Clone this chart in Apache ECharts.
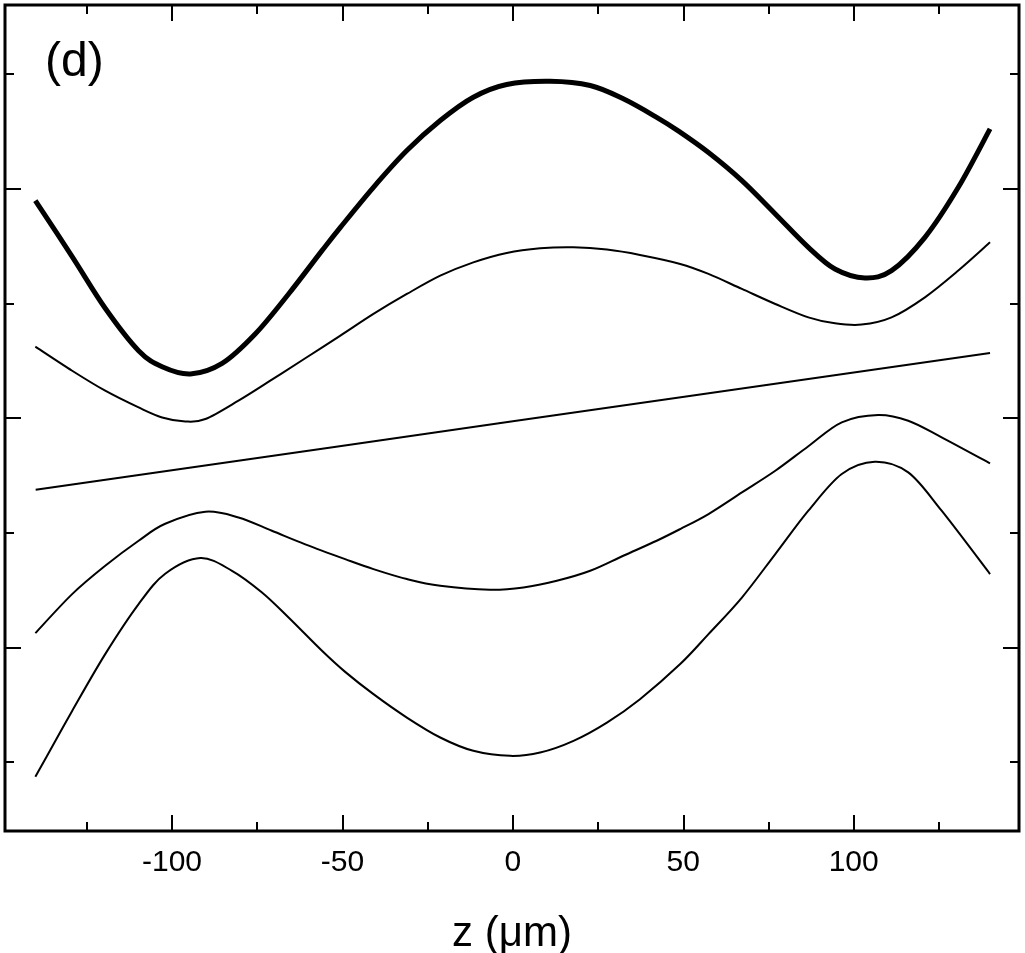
<!DOCTYPE html>
<html><head><meta charset="utf-8">
<script src="https://cdn.jsdelivr.net/npm/echarts@6/dist/echarts.min.js"></script>
<style>html,body{margin:0;padding:0;background:#fff}#c{width:1025px;height:953px}</style>
</head><body><div id="c"></div>
<script>
// z (µm) positions and curve values (arbitrary vertical units)
const zThick = [-140.1,-129.3,-119.6,-109.8,-102.9,-94.6,-85.3,-75.6,-65.8,-56.0,-50.6,-40.9,-31.1,-21.3,-11.6,-1.8,10.9,22.7,32.4,42.2,48.4,57.4,67.2,77.0,86.7,94.5,103.3,111.1,120.9,130.7,140.0];
const yThick = [4.895,4.407,3.957,3.587,3.447,3.384,3.476,3.732,4.081,4.459,4.662,5.011,5.331,5.593,5.796,5.907,5.935,5.898,5.782,5.621,5.505,5.314,5.069,4.779,4.488,4.299,4.221,4.285,4.575,5.011,5.520];

const zUpper = [-140.1,-129.3,-119.6,-109.8,-102.9,-96.1,-90.2,-80.5,-70.7,-60.9,-50.6,-40.9,-31.1,-21.3,-11.6,-1.8,8.0,17.8,27.6,37.3,49.1,57.4,67.2,77.0,86.7,94.5,102.3,111.1,120.9,130.7,140.0];
const yUpper = [3.622,3.412,3.238,3.092,3.005,2.970,2.991,3.151,3.334,3.521,3.718,3.907,4.081,4.241,4.357,4.439,4.479,4.488,4.468,4.421,4.343,4.256,4.125,3.994,3.877,3.825,3.814,3.877,4.052,4.285,4.531];

const zAxisLine = [-140, 0, 140];
const yAxisLine = [2.375, 2.971, 3.567];

const zLower1 = [-140.1,-129.3,-119.6,-109.8,-102.0,-90.2,-80.5,-70.7,-60.9,-49.2,-40.9,-31.1,-21.3,-6.7,3.1,12.9,22.7,32.4,42.2,49.1,57.4,67.2,77.0,86.7,96.5,107.2,116.0,125.8,140.0];
const yLower1 = [1.125,1.465,1.712,1.930,2.078,2.183,2.133,2.017,1.899,1.770,1.683,1.596,1.537,1.503,1.523,1.581,1.668,1.799,1.930,2.032,2.163,2.351,2.540,2.754,2.962,3.026,2.976,2.831,2.604];

const zLower2 = [-140.1,-134.2,-129.3,-119.6,-109.8,-102.0,-91.7,-82.4,-73.6,-65.8,-56.0,-49.2,-40.9,-31.1,-21.3,-11.6,-0.8,8.0,17.8,27.6,37.3,49.1,57.4,67.2,77.0,86.7,96.5,106.2,116.0,125.8,140.0];
const yLower2 = [-0.128,0.186,0.447,0.942,1.378,1.642,1.779,1.668,1.479,1.261,0.971,0.787,0.593,0.389,0.215,0.099,0.055,0.084,0.186,0.345,0.549,0.855,1.116,1.435,1.814,2.192,2.512,2.619,2.526,2.192,1.640];

const xMajor = [-100, -50, 0, 50, 100];
const xMinor = [-125, -75, -25, 25, 75, 125];
const yMajor = [1, 3, 5];
const yMinor = [0, 2, 4, 6];
const xLabels = ['-100', '-50', '0', '50', '100'];
const xTitle = 'z (μm)';
const panelLabel = '(d)';

const FONT = "'Liberation Sans', Arial, Helvetica, sans-serif";
const X_MIN = -149, X_MAX = 148.5, Y_MIN = -0.6, Y_MAX = 6.6;

function xAx(pos, ticks, len, withLabels) {
  const a = {
    type: 'value', position: pos, min: X_MIN, max: X_MAX,
    axisLine: { show: false, onZero: false },
    axisTick: { show: true, inside: true, length: len, customValues: ticks, lineStyle: { color: '#000', width: 2 } },
    axisLabel: { show: withLabels, customValues: ticks, color: '#000', fontSize: 30, fontFamily: FONT, margin: 17,
      formatter: v => { const i = xMajor.indexOf(v); return i >= 0 ? xLabels[i] : ''; } },
    splitLine: { show: false }
  };
  if (withLabels) {
    a.name = xTitle; a.nameLocation = 'middle'; a.nameGap = 82;
    a.nameTextStyle = { color: '#000', fontSize: 42, fontFamily: FONT };
  }
  return a;
}
function yAx(pos, ticks, len) {
  return {
    type: 'value', position: pos, min: Y_MIN, max: Y_MAX,
    axisLine: { show: false, onZero: false },
    axisTick: { show: true, inside: true, length: len, customValues: ticks, lineStyle: { color: '#000', width: 2 } },
    axisLabel: { show: false },
    splitLine: { show: false }
  };
}

// Smooth curve through the data points (Catmull-Rom -> cubic Bezier), in pixel space from api.coord
function smoothPath(pts) {
  let d = 'M' + pts[0][0] + ',' + pts[0][1];
  for (let i = 0; i < pts.length - 1; i++) {
    const p0 = pts[Math.max(0, i - 1)], p1 = pts[i], p2 = pts[i + 1], p3 = pts[Math.min(pts.length - 1, i + 2)];
    const c1x = p1[0] + (p2[0] - p0[0]) / 6, c1y = p1[1] + (p2[1] - p0[1]) / 6;
    const c2x = p2[0] - (p3[0] - p1[0]) / 6, c2y = p2[1] - (p3[1] - p1[1]) / 6;
    d += 'C' + c1x + ',' + c1y + ',' + c2x + ',' + c2y + ',' + p2[0] + ',' + p2[1];
  }
  return d;
}
function curve(zs, ys, w) {
  return {
    type: 'custom', coordinateSystem: 'cartesian2d', xAxisIndex: 0, yAxisIndex: 0, silent: true,
    data: zs.map((z, i) => [z, ys[i]]),
    encode: { x: 0, y: 1 },
    renderItem: function (params, api) {
      if (params.dataIndex !== 0) return null;
      const pts = zs.map((z, i) => api.coord([z, ys[i]]));
      return { type: 'path', shape: { pathData: smoothPath(pts) },
        style: { fill: 'none', stroke: '#000', lineWidth: w, lineJoin: 'round' } };
    }
  };
}

const chart = echarts.init(document.getElementById('c'), null, { renderer: 'canvas' });
chart.setOption({
  animation: false,
  backgroundColor: '#fff',
  grid: { left: 5, right: 6, top: 5, bottom: 122, outerBoundsMode: 'none', containLabel: false,
    show: true, borderColor: '#000', borderWidth: 3, backgroundColor: 'transparent' },
  xAxis: [xAx('bottom', xMajor, 16, true), xAx('bottom', xMinor, 9, false), xAx('top', xMajor, 16, false), xAx('top', xMinor, 9, false)],
  yAxis: [yAx('left', yMajor, 16), yAx('left', yMinor, 9), yAx('right', yMajor, 16), yAx('right', yMinor, 9)],
  graphic: [{ type: 'text', left: 45, top: 39, style: { text: panelLabel, fill: '#000', font: '48px ' + FONT } }],
  series: [
    curve(zThick, yThick, 5),
    curve(zUpper, yUpper, 2),
    curve(zAxisLine, yAxisLine, 2),
    curve(zLower1, yLower1, 2),
    curve(zLower2, yLower2, 2)
  ]
});
</script></body></html>
